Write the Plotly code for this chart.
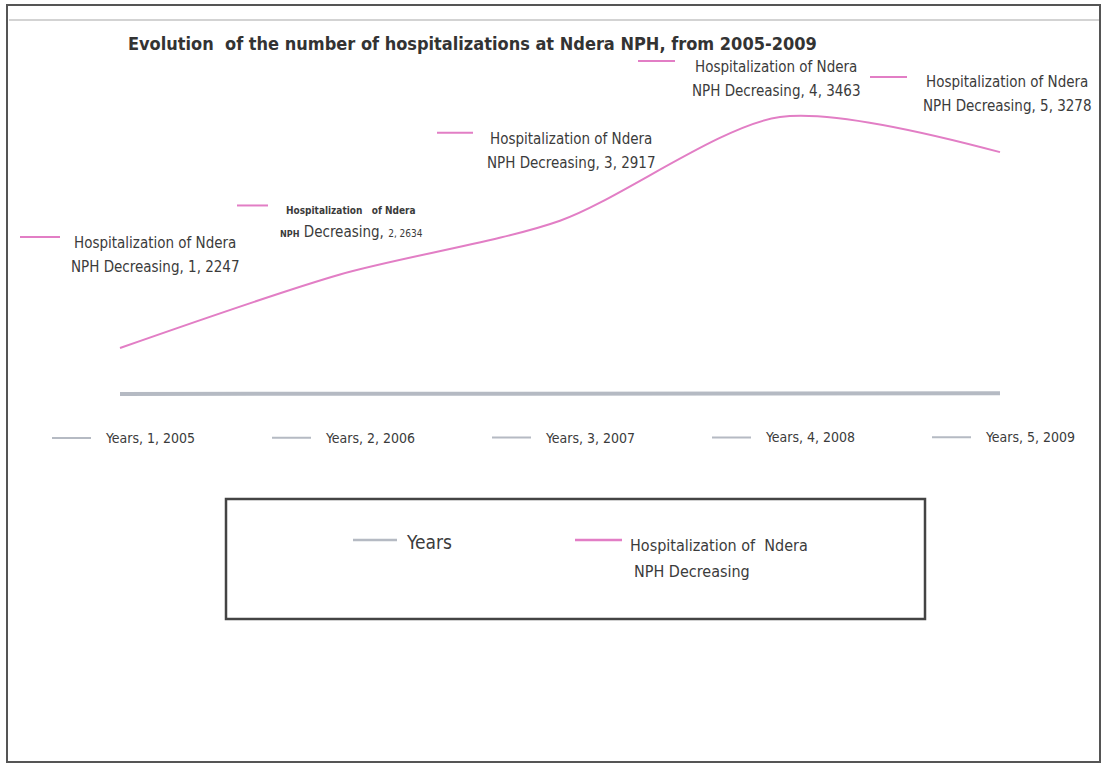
import plotly.graph_objects as go

# ---- data ----
point_index = [1, 2, 3, 4, 5]
years = [2005, 2006, 2007, 2008, 2009]
hospitalizations = [2247, 2634, 2917, 3463, 3278]
series_years = "Years"
series_hosp = "Hospitalization of Ndera NPH Decreasing"
title_text = "Evolution  of the number of hospitalizations at Ndera NPH, from 2005-2009"

W, H = 1106, 766
# plot area covers the whole figure; axis ranges chosen so that
# category 1 -> 120 px, category 5 -> 1000 px; value 2247 -> 348 px, 3463 -> 117 px
X_STEP = 220.0
Y_SCALE = 0.19
x_range = [1 - 120 / X_STEP, 1 + (W - 120) / X_STEP]
y_range = [2247 - (H - 348) / Y_SCALE, 2247 + 348 / Y_SCALE]

def px(x):
    return x / W

def py(y):
    return 1 - y / H

PINK = "#E27EC5"
GREY = "#B5BAC3"
TXT = "#3b3b3b"
FONT = "Liberation Sans Narrow, Arial Narrow, DejaVu Sans Condensed, sans-serif"

fig = go.Figure()
fig.add_trace(go.Scatter(x=point_index, y=years, mode="lines", name=series_years,
                         line=dict(color=GREY, width=4), showlegend=False, hoverinfo="skip"))
fig.add_trace(go.Scatter(x=point_index, y=hospitalizations, mode="lines", name=series_hosp,
                         line=dict(color=PINK, width=2, shape="spline", smoothing=0.8),
                         showlegend=False, hoverinfo="skip"))

annotations = []
shapes = []

# pink data labels: (text xshift, text yshift, dash x0, dash x1, dash y)
pink_pos = [(35, 93, -100, -60, 111), (11, 53, -103, -72, 69), (11, 70, -123, -87, 88),
            (-4, 38, -142, -105, 56), (7, 58, -130, -93, 75)]
for i, (xi, v) in enumerate(zip(point_index, hospitalizations)):
    xs, ys, d0, d1, dy = pink_pos[i]
    if xi == 2:
        line1 = "<span style='font-size:10px'><b>Hospitalization&nbsp;&nbsp;&nbsp;of Ndera</b></span>"
        line2 = ("<span style='font-size:9px'><b>NPH</b></span> Decreasing, "
                 f"<span style='font-size:10px'>{xi}, {v}</span>")
        spacing = 11
    else:
        line1 = "Hospitalization of Ndera"
        line2 = f"NPH Decreasing, {xi}, {v}"
        spacing = 12
    for txt, off in ((line1, spacing), (line2, -spacing)):
        annotations.append(dict(x=xi, y=v, xref="x", yref="y", xshift=xs, yshift=ys + off,
                                text=txt, showarrow=False, xanchor="center", yanchor="middle",
                                font=dict(family=FONT, size=15, color=TXT)))
    shapes.append(dict(type="line", xref="x", yref="y", xsizemode="pixel", ysizemode="pixel",
                       xanchor=xi, yanchor=v, x0=d0, x1=d1, y0=dy, y1=dy,
                       line=dict(color=PINK, width=2)))

# grey data labels
for xi, v in zip(point_index, years):
    annotations.append(dict(x=xi, y=v, xref="x", yref="y", xshift=-17, yshift=-44,
                            text=f"Years, {xi}, {v}", showarrow=False, xanchor="left",
                            yanchor="middle", font=dict(family=FONT, size=14, color=TXT)))
    shapes.append(dict(type="line", xref="x", yref="y", xsizemode="pixel", ysizemode="pixel",
                       xanchor=xi, yanchor=v, x0=-68, x1=-29, y0=-44, y1=-44,
                       line=dict(color=GREY, width=2)))

# title
annotations.append(dict(x=px(126), y=py(43), xref="paper", yref="paper", text=f"<b>{title_text}</b>",
                        showarrow=False, xanchor="left", yanchor="middle",
                        font=dict(family=FONT, size=18, color="#333333")))

# legend box
shapes.append(dict(type="rect", xref="paper", yref="paper", x0=px(226), x1=px(925),
                   y0=py(499), y1=py(619), line=dict(color="#444444", width=2.5)))
shapes.append(dict(type="line", xref="paper", yref="paper", x0=px(353), x1=px(397),
                   y0=py(540), y1=py(540), line=dict(color=GREY, width=2.5)))
annotations.append(dict(x=px(404), y=py(542), xref="paper", yref="paper", text=series_years,
                        showarrow=False, xanchor="left", yanchor="middle",
                        font=dict(family=FONT, size=19, color=TXT)))
shapes.append(dict(type="line", xref="paper", yref="paper", x0=px(575), x1=px(622),
                   y0=py(540), y1=py(540), line=dict(color=PINK, width=2.5)))
annotations.append(dict(x=px(628), y=py(545), xref="paper", yref="paper",
                        text="Hospitalization of  Ndera", showarrow=False, xanchor="left",
                        yanchor="middle", font=dict(family=FONT, size=16, color=TXT)))
annotations.append(dict(x=px(632), y=py(571), xref="paper", yref="paper",
                        text="NPH Decreasing", showarrow=False, xanchor="left",
                        yanchor="middle", font=dict(family=FONT, size=16, color=TXT)))

# outer frame
shapes.append(dict(type="rect", xref="paper", yref="paper", x0=px(7), x1=px(1100),
                   y0=py(5), y1=py(762), line=dict(color="#555555", width=2)))
shapes.append(dict(type="line", xref="paper", yref="paper", x0=px(9), x1=px(1099),
                   y0=py(20), y1=py(20), line=dict(color="#c4c4c4", width=1.5)))

fig.update_layout(
    width=W, height=H,
    margin=dict(l=0, r=0, t=0, b=0),
    paper_bgcolor="white", plot_bgcolor="white",
    xaxis=dict(range=x_range, visible=False, fixedrange=True),
    yaxis=dict(range=y_range, visible=False, fixedrange=True),
    annotations=annotations, shapes=shapes,
    showlegend=False, hovermode=False,
)

fig.write_html("out.html", config={"displayModeBar": False},
               post_script="document.body.style.margin='0';")
